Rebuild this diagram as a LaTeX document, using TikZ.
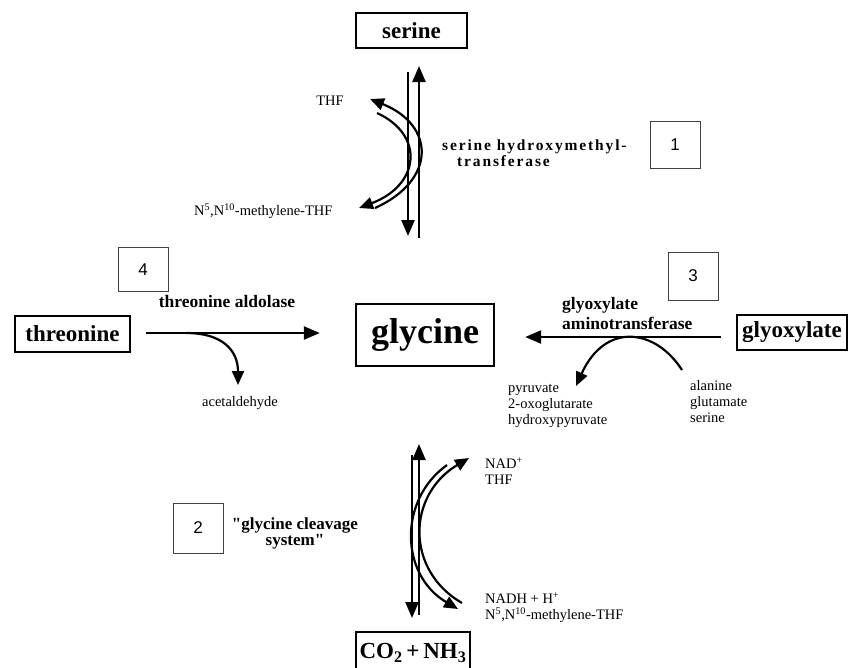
\documentclass[tikz,border=0pt]{standalone}
\usepackage{fontspec}
\setmainfont{Liberation Serif}
\newfontfamily\numfont{Liberation Sans}
\usetikzlibrary{arrows.meta}
\newcommand{\sq}{{\addfontfeatures{Ligatures=TeXOff}"}}
\begin{document}
\begin{tikzpicture}[x=1pt,y=-1pt,
  every node/.style={inner sep=0pt},
  bigbox/.style={draw, line width=2.4pt, font=\bfseries\fontsize{23}{24}\selectfont},
  numbox/.style={draw=black!75, line width=0.8pt, minimum width=50pt, font=\numfont\fontsize{17}{18}\selectfont},
  lbl/.style={font=\fontsize{14.5}{16}\selectfont},
  blbl/.style={font=\bfseries\fontsize{17.5}{18}\selectfont},
  shmt/.style={font=\bfseries\fontsize{15.5}{16}\selectfont\addfontfeatures{LetterSpace=12}},
  rx/.style={line width=2.4pt, -{Triangle[length=16pt,width=13pt]}},
  cx/.style={line width=2.2pt, -{Triangle[length=14pt,width=12pt]}},
]
\fill[white] (0,0) rectangle (853,667);
\useasboundingbox (0,0) rectangle (853,667);

% main boxes
\node[bigbox, minimum width=111pt, minimum height=35pt] (ser) at (411.5,30.5) {serine};
\node[bigbox, minimum width=115pt, minimum height=36pt] (thr) at (72.5,334) {threonine};
\node[bigbox, minimum width=138pt, minimum height=62pt, font=\bfseries\fontsize{36}{38}\selectfont] (gly) at (425,335) {glycine};
\node[bigbox, minimum width=110pt, minimum height=35pt] (glx) at (792,332.5) {glyoxylate};
\node[bigbox, minimum width=114pt, minimum height=42pt] (co2) at (413,653) {CO\textsubscript{2}\,+\,NH\textsubscript{3}};

% number boxes
\node[numbox, minimum height=47pt] (n1) at (675,144.5) {1};
\node[numbox, minimum height=44pt] (n4) at (143,269.5) {4};
\node[numbox, minimum height=48pt] (n3) at (693,276) {3};
\node[numbox, minimum height=50pt] (n2) at (198,528) {2};

% labels top
\node[lbl] (thf1) at (330,101) {THF};
\node[lbl, anchor=west] (mthf1) at (194,211) {N\textsuperscript{5},N\textsuperscript{10}-methylene-THF};
\node[shmt, anchor=base west] (shmtA) at (442,150) {serine hydroxymethyl-};
\node[shmt, anchor=base west] (shmtB) at (457,166.5) {transferase};

% labels middle
\node[blbl] (tal) at (227,302) {threonine aldolase};
\node[lbl] (acet) at (240,403) {acetaldehyde};
\node[blbl, anchor=west] (gat1) at (562,305) {glyoxylate};
\node[blbl, anchor=west] (gat2) at (562,323) {aminotransferase};
\node[lbl, anchor=west, align=left] (prod) at (508,406) {pyruvate\\2-oxoglutarate\\hydroxypyruvate};
\node[lbl, anchor=west, align=left] (subs) at (690,402) {alanine\\glutamate\\serine};

% labels bottom
\node[lbl, anchor=west, align=left] (nad) at (485,471) {NAD\textsuperscript{+}\\THF};
\node[lbl, anchor=west, align=left] (nadh) at (485,607.5) {NADH + H\textsuperscript{+}\\N\textsuperscript{5},N\textsuperscript{10}-methylene-THF};
\node[blbl, align=center, font=\bfseries\fontsize{17}{14}\selectfont] (gcs) at (295,533) {\sq glycine cleavage\\system\sq};

% top: serine <-> glycine
\coordinate (sdA) at (408,72);
\coordinate (sdB) at (408,236);
\coordinate (suA) at (419,238);
\coordinate (suB) at (419,66);
\draw[rx] (sdA) -- (sdB);
\draw[rx] (suA) -- (suB);
\coordinate (t1s) at (375,208);
\coordinate (t1e) at (370,99);
\coordinate (t2s) at (377,113);
\coordinate (t2e) at (359,208);
\draw[cx] (t1s) .. controls (437,180) and (435,125) .. (t1e);
\draw[cx] (t2s) .. controls (425,135) and (420,185) .. (t2e);

% threonine -> glycine
\draw[rx] ([xshift=15pt,yshift=1pt]thr.east) -- ([xshift=-35pt,yshift=2pt]gly.west);
\coordinate (tb0) at (186,333);
\coordinate (acetTip) at (238,385);
\draw[cx] (tb0) .. controls (222,333) and (238,350) .. (acetTip);

% glyoxylate -> glycine
\draw[rx] ([xshift=-15pt,yshift=-4.5pt]glx.west) -- ([xshift=30pt,yshift=-2pt]gly.east);
\coordinate (hs) at (682,370);
\coordinate (he) at (576,386);
\draw[cx] (hs) .. controls (655,328) and (605,322) .. (he);

% bottom: glycine <-> CO2 + NH3
\coordinate (bdA) at (412,455);
\coordinate (bdB) at (412,618);
\coordinate (buA) at (419,615);
\coordinate (buB) at (419,444);
\draw[rx] (bdA) -- (bdB);
\draw[rx] (buA) -- (buB);
\coordinate (b1s) at (447,465);
\coordinate (b1e) at (458,609);
\coordinate (b2s) at (462,603);
\coordinate (b2e) at (469,458);
\draw[cx] (b1s) .. controls (398,500) and (400,575) .. (b1e);
\draw[cx] (b2s) .. controls (405,570) and (407,495) .. (b2e);
\end{tikzpicture}
\end{document}
